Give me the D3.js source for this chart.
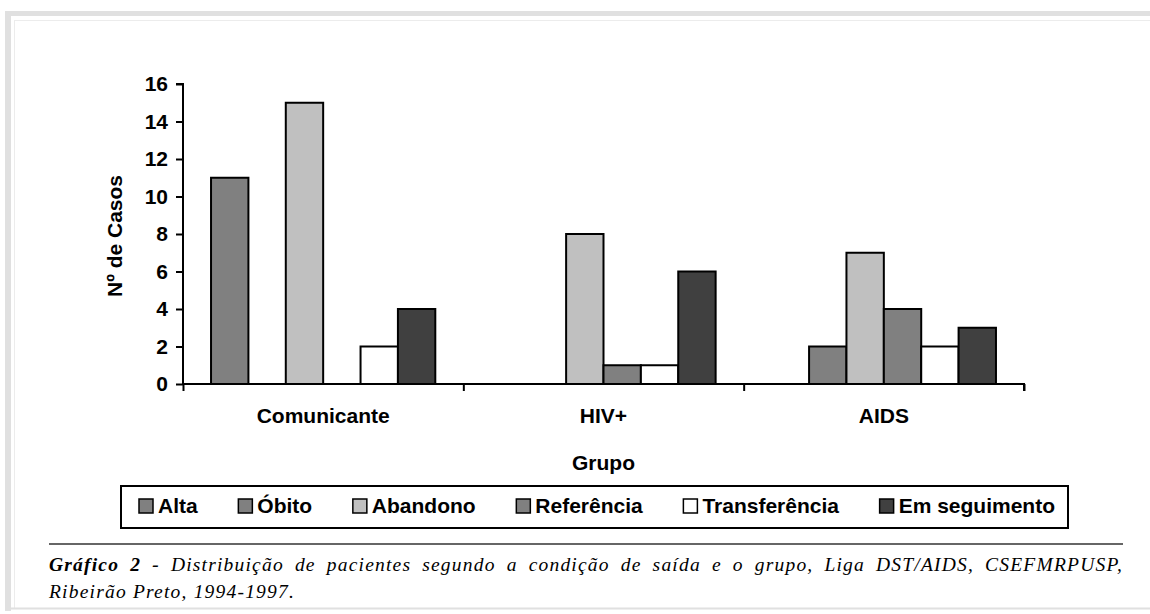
<!DOCTYPE html>
<html><head><meta charset="utf-8">
<script src="https://cdn.jsdelivr.net/npm/d3@7"></script>
<style>
html,body{margin:0;padding:0;background:#fff;}
svg{display:block;}
</style></head>
<body>
<svg id="chart" width="1150" height="614"></svg>
<script>
// ---- data ----
const categories = ["Comunicante", "HIV+", "AIDS"];
const seriesNames = ["Alta", "Óbito", "Abandono", "Referência", "Transferência", "Em seguimento"];
const alta = [11, 0, 0];
const obito = [0, 0, 2];
const abandono = [15, 8, 7];
const referencia = [0, 1, 4];
const transferencia = [2, 1, 2];
const emSeguimento = [4, 6, 3];
const yTickValues = [0, 2, 4, 6, 8, 10, 12, 14, 16];
const seriesColors = ["#808080", "#808080", "#c0c0c0", "#808080", "#ffffff", "#404040"];
const yTitle = "Nº de Casos";
const xTitle = "Grupo";
const captionBold = "Gráfico 2 -";
const captionLine1 = " Distribuição de pacientes segundo a condição de saída e o grupo, Liga DST/AIDS, CSEFMRPUSP,";
const captionLine2 = "Ribeirão Preto, 1994-1997.";

const seriesValues = [alta, obito, abandono, referencia, transferencia, emSeguimento];

const svg = d3.select("#chart");
const SANS = "'Liberation Sans', Arial, sans-serif";
const SERIF = "'Liberation Serif', 'Times New Roman', serif";

// ---- page frame ----
svg.append("rect").attr("x", 5).attr("y", 11).attr("width", 1150).attr("height", 5).attr("fill", "#e0e0e0");
svg.append("rect").attr("x", 5).attr("y", 11).attr("width", 6).attr("height", 600).attr("fill", "#e0e0e0");
svg.append("line").attr("x1", 14).attr("x2", 1150).attr("y1", 20.5).attr("y2", 20.5).attr("stroke", "#ececec").attr("stroke-width", 1);
svg.append("line").attr("x1", 14.5).attr("x2", 14.5).attr("y1", 20).attr("y2", 608).attr("stroke", "#ececec").attr("stroke-width", 1);
svg.append("line").attr("x1", 11).attr("x2", 1150).attr("y1", 608.5).attr("y2", 608.5).attr("stroke", "#e0e0e0").attr("stroke-width", 2);

// ---- scales ----
const plotLeft = 183, plotRight = 1024, plotTop = 84, plotBottom = 384;
const x0 = d3.scaleBand().domain(categories).range([plotLeft, plotRight]).paddingInner(0.2).paddingOuter(0.1);
const x1 = d3.scaleBand().domain(seriesNames).range([0, x0.bandwidth()]);
const y = d3.scaleLinear().domain([0, 16]).range([plotBottom, plotTop]);

// ---- bars ----
const g = svg.append("g");
seriesNames.forEach((s, si) => {
  g.selectAll(null)
    .data(categories.map((c, ci) => ({c, v: seriesValues[si][ci]})).filter(d => d.v > 0))
    .enter().append("rect")
    .attr("x", d => x0(d.c) + x1(s))
    .attr("y", d => y(d.v))
    .attr("width", x1.bandwidth())
    .attr("height", d => y(0) - y(d.v))
    .attr("fill", seriesColors[si])
    .attr("stroke", "#000")
    .attr("stroke-width", 2);
});

// ---- y axis ----
const yAxis = d3.axisLeft(y).tickValues(yTickValues).tickSize(7).tickPadding(8).tickFormat(d3.format("d"));
const gy = svg.append("g").attr("transform", `translate(${plotLeft},0)`).call(yAxis);
gy.select(".domain").attr("stroke", "#000").attr("stroke-width", 2).attr("d", `M-7,${plotTop}H0V${plotBottom}`);
gy.selectAll(".tick line").attr("stroke", "#000").attr("stroke-width", 2);
gy.selectAll(".tick text").attr("font-family", SANS).attr("font-weight", "bold").attr("font-size", "21px").attr("fill", "#000");

// ---- x axis ----
const boundaries = d3.scaleLinear().domain([0, categories.length]).range([plotLeft, plotRight]);
const xAxis = d3.axisBottom(boundaries).tickValues(d3.range(categories.length + 1)).tickSize(7).tickFormat("");
const gx = svg.append("g").attr("transform", `translate(0,${plotBottom})`).call(xAxis);
gx.select(".domain").attr("stroke", "#000").attr("stroke-width", 2).attr("d", `M${plotLeft},0H${plotRight}V7`);
gx.selectAll(".tick line").attr("stroke", "#000").attr("stroke-width", 2);

svg.append("g").selectAll("text").data(categories).enter().append("text")
  .attr("x", d => x0(d) + x0.bandwidth() / 2)
  .attr("y", 423)
  .attr("text-anchor", "middle")
  .attr("font-family", SANS).attr("font-weight", "bold").attr("font-size", "21px")
  .text(d => d);

// ---- axis titles ----
svg.append("text").attr("x", (plotLeft + plotRight) / 2).attr("y", 470)
  .attr("text-anchor", "middle").attr("font-family", SANS).attr("font-weight", "bold").attr("font-size", "21px")
  .text(xTitle);
svg.append("text").attr("transform", "translate(122,236) rotate(-90)")
  .attr("text-anchor", "middle").attr("font-family", SANS).attr("font-weight", "bold").attr("font-size", "21px")
  .text(yTitle);

// ---- legend ----
const legLeft = 121, legRight = 1068, legTop = 486, legBottom = 528;
svg.append("rect").attr("x", legLeft).attr("y", legTop).attr("width", legRight - legLeft).attr("height", legBottom - legTop)
  .attr("fill", "#fff").attr("stroke", "#000").attr("stroke-width", 2);
const legG = svg.append("g");
const items = seriesNames.map((s, i) => {
  const it = legG.append("g");
  it.append("rect").attr("x", 0).attr("y", 499).attr("width", 14).attr("height", 14)
    .attr("fill", seriesColors[i]).attr("stroke", "#000").attr("stroke-width", 1.5);
  const t = it.append("text").attr("x", 19).attr("y", 513)
    .attr("font-family", SANS).attr("font-weight", "bold").attr("font-size", "21px").text(s);
  return {g: it, w: 19 + t.node().getComputedTextLength()};
});
const firstX = 139, lastEnd = 1055;
const totalW = d3.sum(items, d => d.w);
const gap = (lastEnd - firstX - totalW) / (items.length - 1);
let cx = firstX;
items.forEach(it => { it.g.attr("transform", `translate(${cx},0)`); cx += it.w + gap; });

// ---- caption ----
const capLeft = 49, capRight = 1123;
svg.append("line").attr("x1", capLeft).attr("x2", capRight).attr("y1", 544).attr("y2", 544).attr("stroke", "#333").attr("stroke-width", 1.5);
const cap1 = svg.append("text").attr("x", capLeft).attr("y", 571)
  .attr("font-family", SERIF).attr("font-style", "italic").attr("font-size", "19.5px")
  .attr("letter-spacing", "1.2px");
cap1.append("tspan").attr("font-weight", "bold").text(captionBold);
cap1.append("tspan").text(captionLine1);
const natural = cap1.node().getComputedTextLength();
const nSpaces = (captionBold + captionLine1).split(" ").length - 1;
cap1.attr("word-spacing", ((capRight - capLeft - natural) / nSpaces).toFixed(2) + "px");
svg.append("text").attr("x", capLeft).attr("y", 598)
  .attr("font-family", SERIF).attr("font-style", "italic").attr("font-size", "19.5px")
  .attr("letter-spacing", "1.2px")
  .text(captionLine2);
</script>
</body></html>
